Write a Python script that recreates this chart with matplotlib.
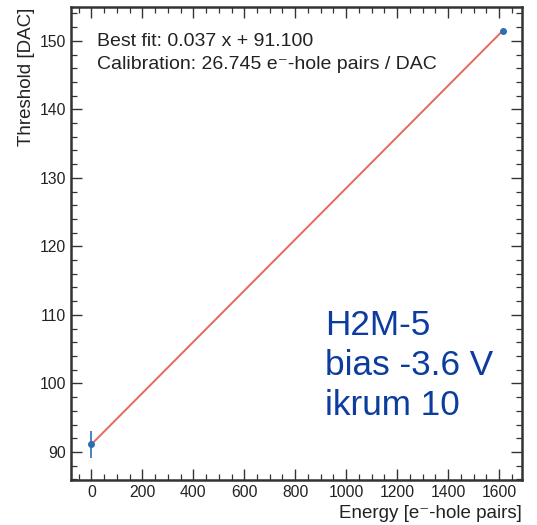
import matplotlib
matplotlib.use("Agg")
import matplotlib.pyplot as plt
from matplotlib.ticker import MultipleLocator

plt.rcParams['font.family'] = ['Liberation Sans', 'DejaVu Sans']

# Calibration points: injected charge vs. measured threshold
energy = [0.0, 1615.0]
threshold = [91.1, 151.5]
threshold_err = [2.0, 0.0]

fit_slope = 0.037
fit_offset = 91.1
calibration = 26.745

x_ticks = [0, 200, 400, 600, 800, 1000, 1200, 1400, 1600]
y_ticks = [90, 100, 110, 120, 130, 140, 150]

info_lines = ["H2M-5", "bias -3.6 V", "ikrum 10"]

fig = plt.figure(figsize=(5.37, 5.25), dpi=100)
ax = fig.add_axes([0.1322, 0.0857, 0.8398, 0.9004])

# straight-line fit through the two points
slope = (threshold[1] - threshold[0]) / (energy[1] - energy[0])
ax.plot(energy, [threshold[0] + slope * (e - energy[0]) for e in energy],
        color='#e8675e', lw=1.4, zorder=2)

ax.errorbar(energy, threshold, yerr=threshold_err, fmt='o', ms=4,
            color='#2a6fb5', ecolor='#2a6fb5', elinewidth=1.2, capsize=0, zorder=3)

ax.set_xlim(-80, 1690)
ax.set_ylim(85.9, 154.9)
ax.set_xticks(x_ticks)
ax.set_yticks(y_ticks)
ax.xaxis.set_minor_locator(MultipleLocator(50))
ax.yaxis.set_minor_locator(MultipleLocator(2))
ax.tick_params(which='both', direction='in', top=True, right=True,
               labelsize=11.3, colors='#333333', labelcolor='#222222')
ax.tick_params(which='major', length=8, width=1.0)
ax.tick_params(which='minor', length=4, width=0.9)
for s in ax.spines.values():
    s.set_linewidth(1.8)
    s.set_color('#333333')

ax.set_xlabel("Energy [e\u207b-hole pairs]", loc='right', fontsize=13.5,
              color='#222222', labelpad=4)
ax.set_ylabel("Threshold [DAC]", loc='top', fontsize=13.5,
              color='#222222', labelpad=3)

ax.text(0.057, 0.918, f"Best fit: {fit_slope:.3f} x + {fit_offset:.3f}",
        transform=ax.transAxes, fontsize=14, color='#222222', va='baseline')
ax.text(0.057, 0.869, f"Calibration: {calibration:.3f} e\u207b-hole pairs / DAC",
        transform=ax.transAxes, fontsize=14, color='#222222', va='baseline')

for i, line in enumerate(info_lines):
    ax.text(0.563, 0.3067 - i * 0.0846, line, transform=ax.transAxes,
            fontsize=25.3, color='#0b3c9e', va='baseline', ha='left')

fig.savefig("out.png", dpi=100)
